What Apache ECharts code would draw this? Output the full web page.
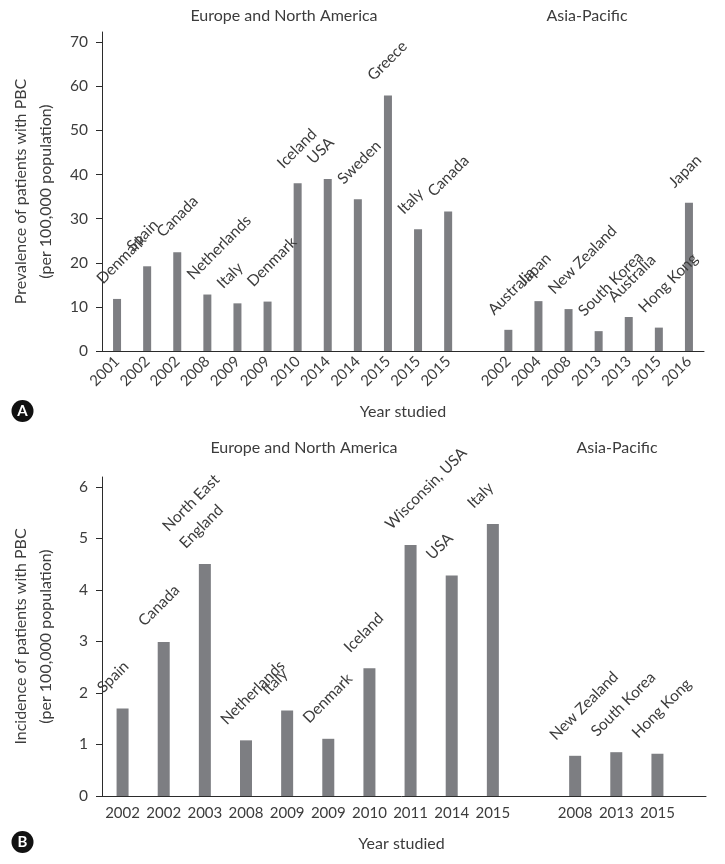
<!DOCTYPE html>
<html><head><meta charset="utf-8">
<script src="https://cdn.jsdelivr.net/npm/echarts@6/dist/echarts.min.js"></script>
<style>html,body{margin:0;padding:0;background:#fff}#c{width:725px;height:864px}</style>
</head><body><div id="c"></div>
<script>
// ---- Panel A: prevalence ----
const prevEuropeYears = ['2001','2002','2002','2008','2009','2009','2010','2014','2014','2015','2015','2015'];
const prevEuropeCountries = ['Denmark','Spain','Canada','Netherlands','Italy','Denmark','Iceland','USA','Sweden','Greece','Italy','Canada'];
const prevEuropeValues = [11.8,19.2,22.4,12.8,10.8,11.2,38.0,39.0,34.4,57.9,27.6,31.6];
const prevAsiaYears = ['2002','2004','2008','2013','2013','2015','2016'];
const prevAsiaCountries = ['Australia','Japan','New Zealand','South Korea','Australia','Hong Kong','Japan'];
const prevAsiaValues = [4.8,11.3,9.5,4.5,7.7,5.3,33.6];
const prevTicks = [0,10,20,30,40,50,60,70];

// ---- Panel B: incidence ----
const incEuropeYears = ['2002','2002','2003','2008','2009','2009','2010','2011','2014','2015'];
const incEuropeCountries = ['Spain','Canada','North East\nEngland','Netherlands','Italy','Denmark','Iceland','Wisconsin, USA','USA','Italy'];
const incEuropeValues = [1.70,2.99,4.50,1.08,1.66,1.11,2.48,4.87,4.28,5.28];
const incAsiaYears = ['2008','2013','2015'];
const incAsiaCountries = ['New Zealand','South Korea','Hong Kong'];
const incAsiaValues = [0.78,0.85,0.82];
const incTicks = [0,1,2,3,4,5,6];

const groupTitles = ['Europe and North America','Asia-Pacific'];
const panelLetters = ['A','B'];
const xName = 'Year studied';
const yNameA = 'Prevalence of patients with PBC\n(per 100,000 population)';
const yNameB = 'Incidence of patients with PBC\n(per 100,000 population)';

// combined (one empty gap category between the two regions)
const catsA = [...prevEuropeYears, '', ...prevAsiaYears];
const valsA = [...prevEuropeValues, null, ...prevAsiaValues];
const namesA = [...prevEuropeCountries, '', ...prevAsiaCountries];
const catsB = [...incEuropeYears, '', ...incAsiaYears];
const valsB = [...incEuropeValues, null, ...incAsiaValues];
const namesB = [...incEuropeCountries, '', ...incAsiaCountries];

const FONT = 'Lato';
const TXT = '#3c3c3c';
const AXIS = '#2b2b2b';
const BAR = '#7d7e82';

const chart = echarts.init(document.getElementById('c'), null, {renderer: 'canvas'});

function yAxisCfg(grid, max, ticks, name) {
  return {
    gridIndex: grid, type: 'value', min: 0, max: max, interval: ticks[1] - ticks[0],
    axisLine: {show: true, lineStyle: {color: AXIS, width: 1}},
    axisTick: {show: true, length: 6, lineStyle: {color: AXIS}, customValues: ticks},
    axisLabel: {customValues: ticks, margin: 14, fontSize: 15.5, color: TXT, fontFamily: FONT},
    splitLine: {show: false},
    name: name, nameLocation: 'middle', nameGap: 44,
    nameTextStyle: {fontSize: 16, lineHeight: 25, color: TXT, fontFamily: FONT}
  };
}

const option = {
  animation: false,
  backgroundColor: '#fff',
  grid: [
    {left: 97, top: 32, width: 607, height: 319},
    {left: 98, top: 477, width: 580, height: 319},
    {left: 97, top: 477, width: 609, height: 319}
  ],
  xAxis: [
    {gridIndex: 0, type: 'category', data: catsA,
     axisLine: {lineStyle: {color: AXIS}}, axisTick: {show: false},
     axisLabel: {rotate: 45, interval: 0, margin: 8, fontSize: 15, color: TXT, fontFamily: FONT},
     name: xName, nameLocation: 'middle', nameGap: 53,
     nameTextStyle: {fontSize: 16, color: TXT, fontFamily: FONT}},
    {gridIndex: 1, type: 'category', data: catsB,
     axisLine: {show: false}, axisTick: {show: false},
     axisLabel: {interval: 0, margin: 10, fontSize: 15, color: TXT, fontFamily: FONT}},
    {gridIndex: 2, type: 'value', min: 0, max: 1,
     axisLine: {show: true, lineStyle: {color: AXIS}}, axisTick: {show: false},
     axisLabel: {show: false}, splitLine: {show: false},
     name: xName, nameLocation: 'middle', nameGap: 40,
     nameTextStyle: {fontSize: 16, color: TXT, fontFamily: FONT}}
  ],
  yAxis: [
    yAxisCfg(0, 72.3, prevTicks, yNameA),
    yAxisCfg(1, 6.19, incTicks, yNameB),
    {gridIndex: 2, type: 'value', min: 0, max: 1, show: false}
  ],
  series: [
    {type: 'bar', xAxisIndex: 0, yAxisIndex: 0, data: valsA, barWidth: 8,
     itemStyle: {color: BAR},
     label: {show: true, position: 'top', distance: 0, rotate: 45, align: 'left', verticalAlign: 'bottom',
             offset: [0, -17], fontSize: 15.5, color: TXT, fontFamily: FONT,
             formatter: p => namesA[p.dataIndex]}},
    {type: 'bar', xAxisIndex: 1, yAxisIndex: 1, data: valsB, barWidth: 12,
     itemStyle: {color: BAR},
     label: {show: true, position: 'top', distance: 0, rotate: 45, align: 'left', verticalAlign: 'bottom',
             offset: [-3, -17], fontSize: 15.5, lineHeight: 24, color: TXT, fontFamily: FONT,
             formatter: p => namesB[p.dataIndex]}}
  ],
  graphic: [
    {type: 'text', x: 284, y: 16, style: {text: groupTitles[0], fill: TXT, font: '16px ' + FONT, textAlign: 'center', textVerticalAlign: 'middle'}},
    {type: 'text', x: 587, y: 16, style: {text: groupTitles[1], fill: TXT, font: '16px ' + FONT, textAlign: 'center', textVerticalAlign: 'middle'}},
    {type: 'text', x: 304, y: 448, style: {text: groupTitles[0], fill: TXT, font: '16px ' + FONT, textAlign: 'center', textVerticalAlign: 'middle'}},
    {type: 'text', x: 617, y: 448, style: {text: groupTitles[1], fill: TXT, font: '16px ' + FONT, textAlign: 'center', textVerticalAlign: 'middle'}},
    {type: 'circle', shape: {cx: 22.5, cy: 411, r: 11}, style: {fill: '#111'}},
    {type: 'text', x: 22.5, y: 411.5, style: {text: panelLetters[0], fill: '#fff', font: 'bold 15px ' + FONT, textAlign: 'center', textVerticalAlign: 'middle'}},
    {type: 'circle', shape: {cx: 22.5, cy: 842, r: 11}, style: {fill: '#111'}},
    {type: 'text', x: 22.5, y: 842.5, style: {text: panelLetters[1], fill: '#fff', font: 'bold 15px ' + FONT, textAlign: 'center', textVerticalAlign: 'middle'}}
  ]
};
chart.setOption(option);
</script></body></html>
